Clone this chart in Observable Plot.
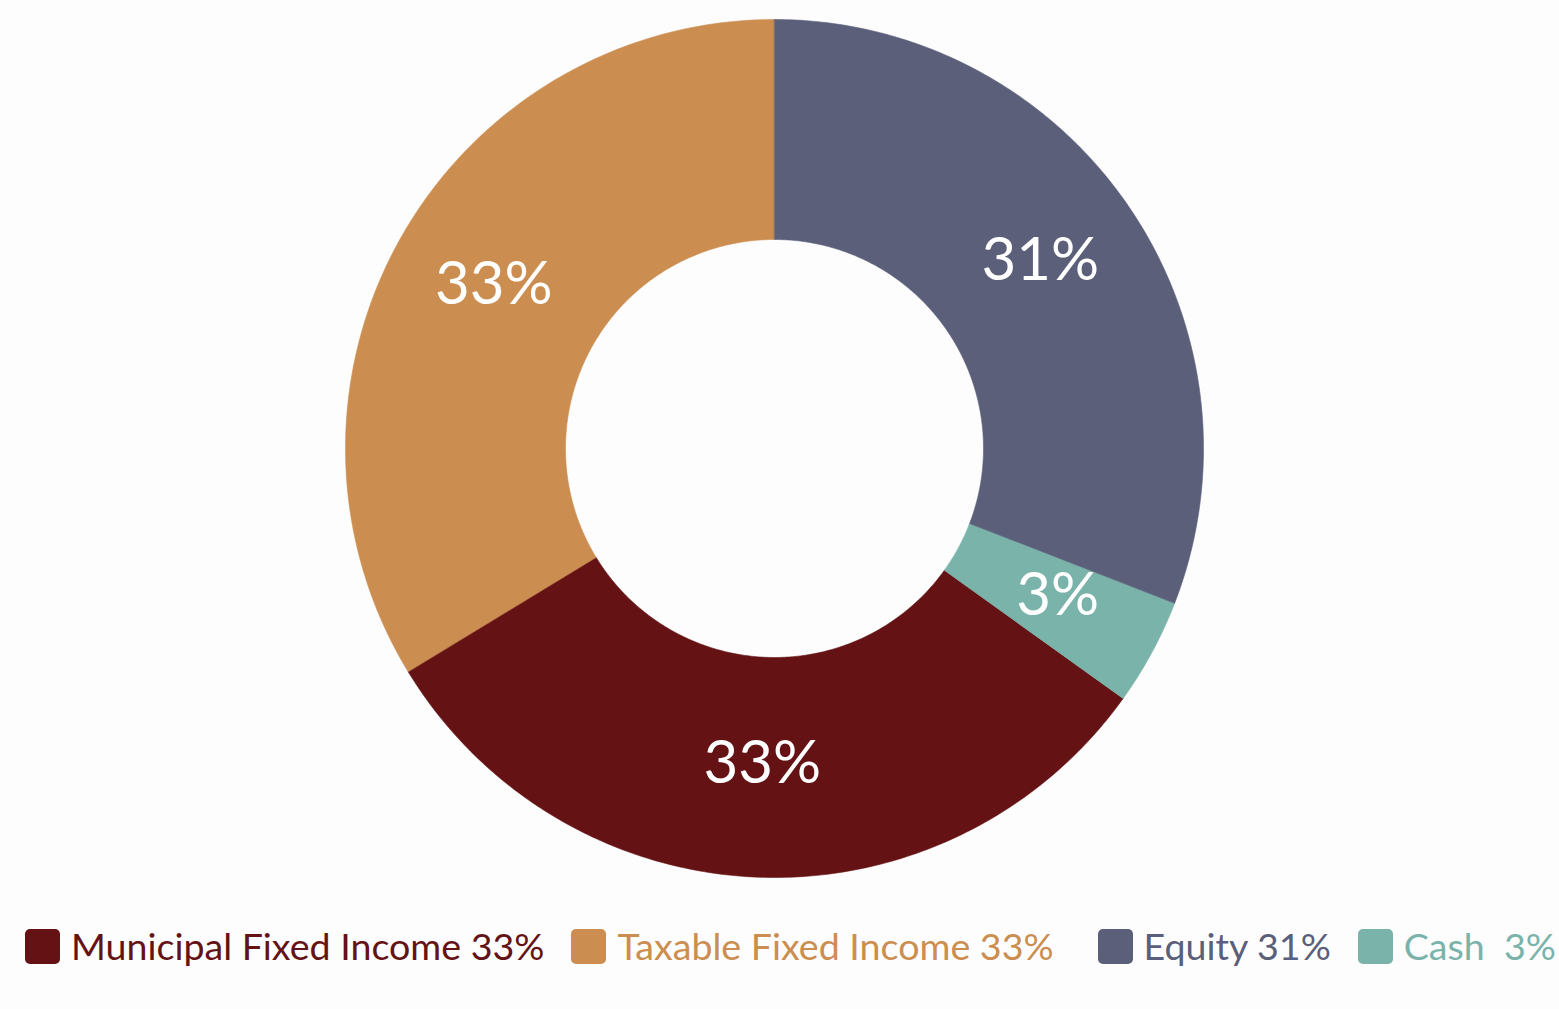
<!DOCTYPE html>
<html>
<head>
<meta charset="utf-8">
<script src="https://cdn.jsdelivr.net/npm/d3@7"></script>
<script src="https://cdn.jsdelivr.net/npm/@observablehq/plot@0.6"></script>
<style>
  html, body { margin: 0; padding: 0; background: #fdfdfd; }
  #chart svg { display: block; background: #fdfdfd; }
  .legend {
    display: flex; justify-content: flex-start; align-items: center;
    width: 1559px; box-sizing: border-box; padding: 0 0 0 25px;
    margin-top: 22px;
    font-family: Lato, "Open Sans", sans-serif; font-size: 37.6px; font-weight: 400;
    line-height: 48px;
  }
  .item { display: flex; align-items: center; white-space: pre; }
  .sw { width: 35px; height: 35px; border-radius: 5px; margin-right: 11px; }
</style>
</head>
<body>
<div id="chart"></div>
<div class="legend" id="legend"></div>
<script>
// Data (legend order)
const categories = ["Municipal Fixed Income", "Taxable Fixed Income", "Equity", "Cash"];
const values = [31.4, 33.7, 30.9, 4.0];
const sliceLabels = ["33%", "33%", "31%", "3%"];
const legendLabels = ["Municipal Fixed Income 33%", "Taxable Fixed Income 33%", "Equity 31%", "Cash  3%"];
const colors = ["#641214", "#cc8e50", "#5b5f7a", "#7ab3aa"];
// Clockwise order starting at 12 o'clock
const drawOrder = ["Equity", "Cash", "Municipal Fixed Income", "Taxable Fixed Income"];

const W = 1559, H = 900, cx = 774, cy = 448;
const rOuter = 429, rInner = 209, rLabel = 322;
const legendGaps = [0, 27, 44, 27];

const rows = categories.map((name, i) => ({name, value: values[i], label: sliceLabels[i]}));
const arcs = d3.pie().value(d => d.value)
  .sort((a, b) => drawOrder.indexOf(a.name) - drawOrder.indexOf(b.name))(rows);

const poly = [];
for (const a of arcs) {
  const n = Math.max(8, Math.ceil((a.endAngle - a.startAngle) * 80));
  for (let k = 0; k <= n; k++) {
    const t = a.startAngle + (a.endAngle - a.startAngle) * k / n;
    poly.push({name: a.data.name, x: rOuter * Math.sin(t), y: -rOuter * Math.cos(t)});
  }
  for (let k = n; k >= 0; k--) {
    const t = a.startAngle + (a.endAngle - a.startAngle) * k / n;
    poly.push({name: a.data.name, x: rInner * Math.sin(t), y: -rInner * Math.cos(t)});
  }
}
const labelPts = arcs.map(a => {
  const m = (a.startAngle + a.endAngle) / 2;
  return {name: a.data.name, label: a.data.label, x: rLabel * Math.sin(m), y: -rLabel * Math.cos(m)};
});

const chart = Plot.plot({
  width: W, height: H, margin: 0,
  x: {domain: [-cx, W - cx], axis: null},
  y: {domain: [-cy, H - cy], reverse: true, axis: null},
  color: {domain: categories, range: colors},
  style: {background: "#fdfdfd"},
  marks: [
    Plot.line(poly, {x: "x", y: "y", z: "name", fill: "name", stroke: "name", strokeWidth: 0.6, curve: "linear-closed"}),
    Plot.text(labelPts, {x: "x", y: "y", text: "label", fill: "white", fontSize: 60, dy: -6,
      fontFamily: "Lato, 'Open Sans', sans-serif", fontWeight: 400})
  ]
});
document.getElementById("chart").append(chart);

const legend = document.getElementById("legend");
categories.forEach((c, i) => {
  const item = document.createElement("div");
  item.className = "item";
  item.style.color = colors[i];
  item.style.marginLeft = legendGaps[i] + "px";
  const sw = document.createElement("div");
  sw.className = "sw";
  sw.style.background = colors[i];
  const tx = document.createElement("span");
  tx.textContent = legendLabels[i];
  item.append(sw, tx);
  legend.append(item);
});
</script>
</body>
</html>
